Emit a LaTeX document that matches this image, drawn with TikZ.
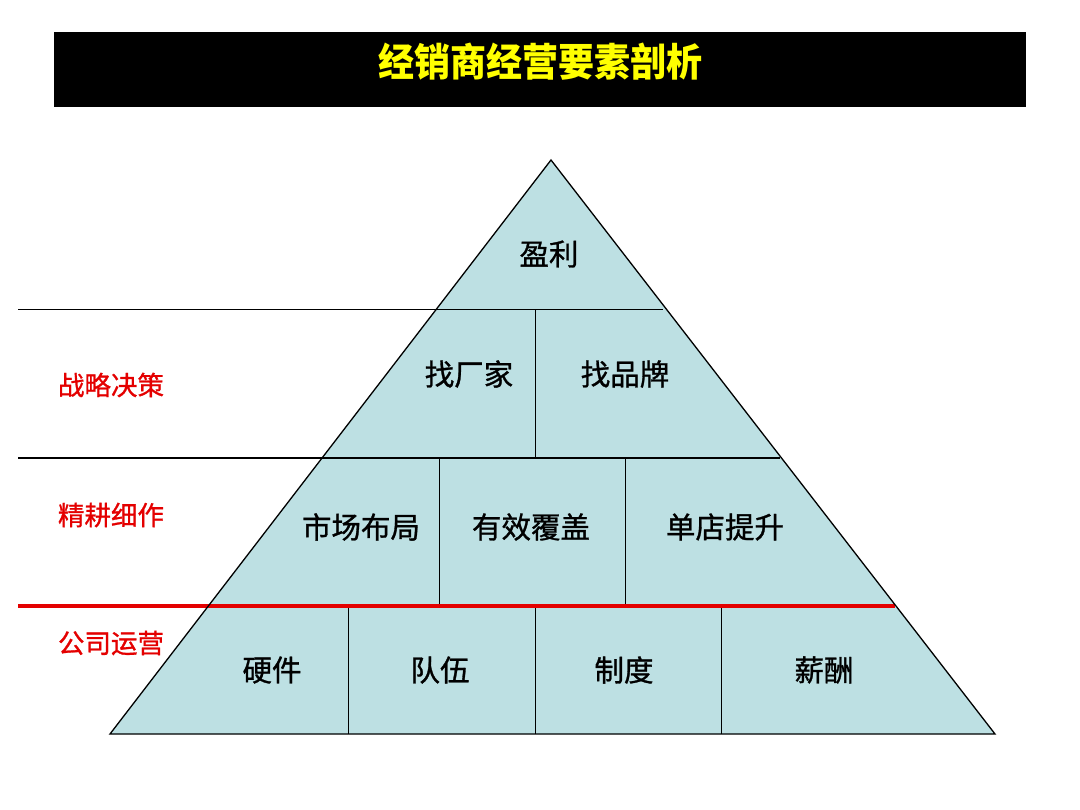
\documentclass[tikz,border=0pt]{standalone}
\usepackage{fontspec}
\newfontfamily\cjk{Noto Sans CJK SC}
\newfontfamily\cjkmed[FakeBold=1]{Noto Sans CJK SC}
\definecolor{pyrfill}{RGB}{189,224,227}
\definecolor{labred}{RGB}{228,0,0}
\definecolor{titleyel}{RGB}{255,255,0}
\begin{document}
\begin{tikzpicture}[x=1pt,y=-1pt,
  cell/.style={font=\cjkmed\fontsize{29.5}{31}\selectfont, text=black, inner sep=0pt},
  side/.style={font=\cjkmed\fontsize{26.5}{28}\selectfont, text=labred, inner sep=0pt},
  thinline/.style={black, line width=1pt},
  midline/.style={black, line width=1.8pt},
  redline/.style={labred, line width=3.5pt}]
\useasboundingbox (0,0) rectangle (1080,810);
\fill[white] (0,0) rectangle (1080,810);
% title bar
\fill[black] (54,32) rectangle (1026,107);
\node[font=\cjk\bfseries\fontsize{36}{38}\selectfont, text=titleyel, inner sep=0pt, yscale=1.08] (title) at (540,62) {经销商经营要素剖析};
% pyramid
\coordinate (apex) at (551,160);
\coordinate (bl) at (110,734);
\coordinate (br) at (995,734);
\fill[pyrfill] (apex) -- (bl) -- (br) -- cycle;
% horizontal band lines
\draw[thinline] (18,310) -- (663,310);
\draw[midline] (18,458) -- (780,458);
% vertical dividers
\draw[thinline] (535,310) -- (535,458);
\draw[thinline] (439,458) -- (439,606);
\draw[thinline] (625,458) -- (625,606);
\draw[thinline] (348,606) -- (348,734);
\draw[thinline] (535,606) -- (535,734);
\draw[thinline] (721,606) -- (721,734);
% red line
\draw[redline] (18,606) -- (895,606);
% outline
\draw[black, line width=1.3pt, line join=miter] (apex) -- (bl) -- (br) -- cycle;
% cell texts
\node[cell] (yl) at (549,254) {盈利};
\node[cell] (zcj) at (469,374) {找厂家};
\node[cell] (zpp) at (625,374) {找品牌};
\node[cell] (scbj) at (361,527) {市场布局};
\node[cell] (yxfg) at (531,527) {有效覆盖};
\node[cell] (ddts) at (725,527) {单店提升};
\node[cell] (yj) at (272,670) {硬件};
\node[cell] (dw) at (440,670) {队伍};
\node[cell] (zd) at (624,670) {制度};
\node[cell] (xc) at (824,670) {薪酬};
% side labels
\node[side] (zljc) at (111,385) {战略决策};
\node[side] (jgxz) at (111,515) {精耕细作};
\node[side] (gsyy) at (111,643) {公司运营};
\end{tikzpicture}
\end{document}
